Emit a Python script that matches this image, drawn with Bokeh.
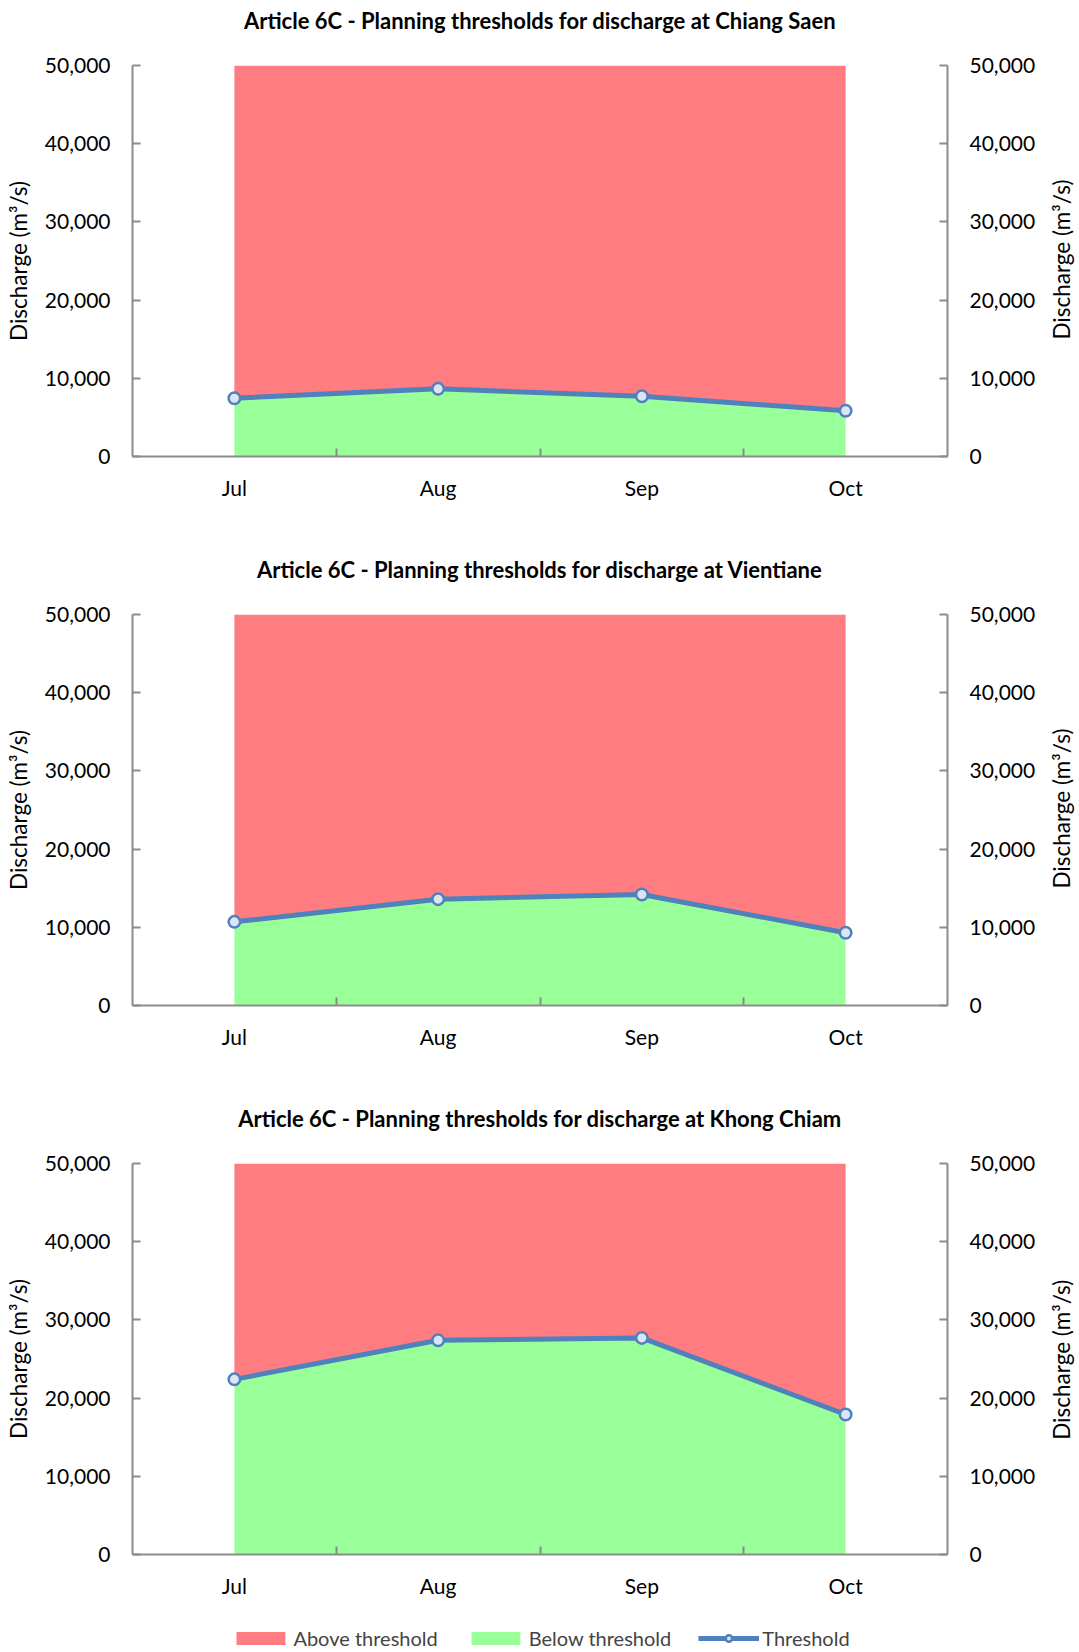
import math
from bokeh.plotting import figure
from bokeh.models import (Range1d, FixedTicker, LinearAxis, NumeralTickFormatter, Legend,
                          LegendItem, ColumnDataSource, Title, Label)
from bokeh.layouts import column, row
from bokeh.embed import file_html
from bokeh.resources import INLINE

# ---- data ----
months = ["Jul", "Aug", "Sep", "Oct"]
stations = ["Chiang Saen", "Vientiane", "Khong Chiam"]
threshold_chiang_saen = [7450, 8650, 7700, 5850]
threshold_vientiane = [10700, 13600, 14200, 9300]
threshold_khong_chiam = [22400, 27400, 27700, 17900]
y_max = 50000
y_ticks = [0, 10000, 20000, 30000, 40000, 50000]
series = [threshold_chiang_saen, threshold_vientiane, threshold_khong_chiam]
y_title = "Discharge (m³/s)"

RED = "#FF7C80"
GREEN = "#99FF99"
BLUE = "#4F81BD"
MARK_FILL = "#DCE6F2"
AXIS_C = "#8C8C8C"
FONT = "Lato"

xs = [i + 0.5 for i in range(len(months))]
TOTAL_W = 1079
LAB_W = 40          # strip holding the right-hand axis title
TOP = 65
FRAME_H = 391


def style_y(ax, label):
    ax.ticker = FixedTicker(ticks=y_ticks)
    ax.formatter = NumeralTickFormatter(format="0,0")
    ax.axis_line_color = AXIS_C
    ax.axis_line_width = 2
    ax.major_tick_line_color = AXIS_C
    ax.major_tick_line_width = 2
    ax.major_tick_in = 8
    ax.major_tick_out = 0
    ax.minor_tick_line_color = None
    ax.major_label_text_font = FONT
    ax.major_label_text_font_size = "21px"
    ax.major_label_text_color = "black"
    ax.major_label_standoff = 22
    if label:
        ax.axis_label = y_title
        ax.axis_label_text_font = FONT
        ax.axis_label_text_font_size = "22.5px"
        ax.axis_label_text_font_style = "normal"
        ax.axis_label_text_color = "black"
        ax.axis_label_standoff = 10


def make_panel(station, values, height, bottom, lab_shift):
    p = figure(width=TOTAL_W - LAB_W, height=height, x_range=Range1d(0, len(months)),
               y_range=Range1d(0, y_max), output_backend="svg",
               toolbar_location=None, min_border_left=132,
               min_border_right=132 - LAB_W,
               min_border_top=TOP, min_border_bottom=bottom)
    # spacer between title and frame
    p.add_layout(Title(text=" ", text_font_size="10px", standoff=15), "above")
    p.title.text = f"Article 6C - Planning thresholds for discharge at {station}"
    p.title.align = "center"
    p.title.text_font = FONT
    p.title.text_font_style = "bold"
    p.title.text_font_size = "22px"
    p.title.text_color = "black"
    p.title.standoff = 7
    p.outline_line_color = None
    p.grid.visible = False

    src = ColumnDataSource(dict(x=xs, thr=values, top=[y_max] * len(values)))
    p.varea(x="x", y1="thr", y2="top", source=src, fill_color=RED)
    p.varea(x="x", y1=0, y2="thr", source=src, fill_color=GREEN)
    p.line("x", "thr", source=src, line_color=BLUE, line_width=5)
    p.scatter("x", "thr", source=src, size=11.5, fill_color=MARK_FILL,
              line_color=BLUE, line_width=2.5)

    xa = p.xaxis[0]
    xa.ticker = FixedTicker(ticks=xs, minor_ticks=[1, 2, 3])
    xa.major_label_overrides = {x: m for x, m in zip(xs, months)}
    xa.axis_line_color = AXIS_C
    xa.axis_line_width = 2
    xa.major_tick_line_color = None
    xa.major_tick_in = 0
    xa.major_tick_out = 0
    xa.minor_tick_line_color = AXIS_C
    xa.minor_tick_line_width = 2
    xa.minor_tick_in = 8
    xa.minor_tick_out = 0
    xa.major_label_text_font = FONT
    xa.major_label_text_font_size = "21px"
    xa.major_label_text_color = "black"
    xa.major_label_standoff = 18

    style_y(p.yaxis[0], True)
    ra = LinearAxis()
    style_y(ra, False)
    p.add_layout(ra, "right")

    # strip to the right carrying the right-hand axis title (reads bottom-to-top)
    s = figure(width=LAB_W, height=height, x_range=Range1d(0, LAB_W),
               y_range=Range1d(0, height), x_axis_location=None, y_axis_location=None,
               min_border=0, toolbar_location=None, output_backend="svg")
    s.grid.visible = False
    s.outline_line_color = None
    s.add_layout(Label(x=22, y=height - TOP - FRAME_H / 2 + lab_shift, text=y_title,
                       angle=math.pi / 2, text_align="center", text_baseline="middle",
                       text_font=FONT, text_font_size="22.5px", text_color="black"))
    return row(p, s)


r1 = make_panel(stations[0], series[0], 549, 93, -12)
r2 = make_panel(stations[1], series[1], 549, 93, -12)
r3 = make_panel(stations[2], series[2], 513, 57, 3)

lf = figure(width=TOTAL_W, height=41, x_range=Range1d(10, 11), y_range=Range1d(10, 11),
            x_axis_location=None, y_axis_location=None, min_border=0,
            toolbar_location=None, output_backend="svg")
lf.grid.visible = False
lf.outline_line_color = None
r_above = lf.varea(x=[0, 1], y1=[0, 0], y2=[1, 1], fill_color=RED)
r_below = lf.varea(x=[0, 1], y1=[0, 0], y2=[1, 1], fill_color=GREEN)
r_line = lf.line(x=[0, 1], y=[0, 1], line_color=BLUE, line_width=5)
r_mark = lf.scatter(x=[0, 1], y=[0, 1], size=12, fill_color=MARK_FILL,
                    line_color=BLUE, line_width=2.5)
legend = Legend(items=[LegendItem(label="Above threshold", renderers=[r_above]),
                       LegendItem(label="Below threshold", renderers=[r_below]),
                       LegendItem(label="Threshold", renderers=[r_line, r_mark])],
                orientation="horizontal", location="bottom", glyph_width=61,
                glyph_height=16, label_standoff=3, spacing=27, padding=0, margin=2,
                border_line_color=None, background_fill_alpha=0,
                label_text_font=FONT, label_text_font_size="20px")
lf.add_layout(legend)

layout = column(r1, r2, r3, lf)
open("out.html", "w").write(file_html(layout, INLINE))
